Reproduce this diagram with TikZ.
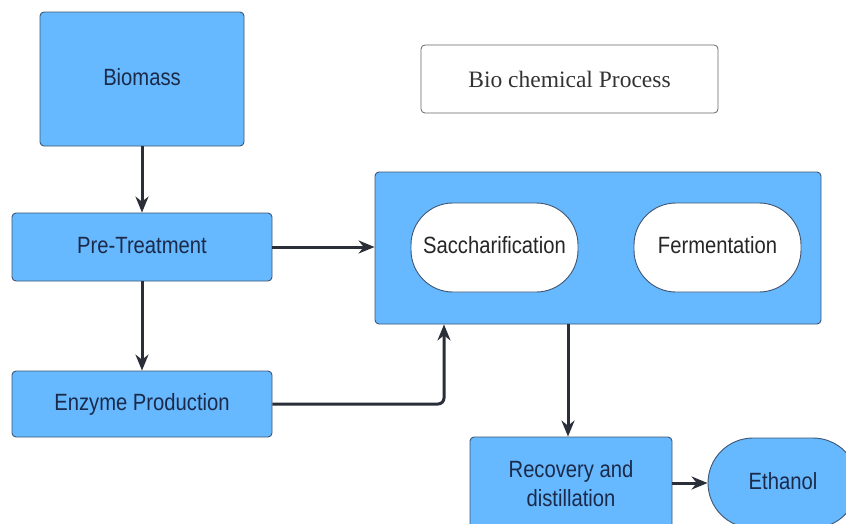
\documentclass[tikz,border=0pt]{standalone}
\usepackage{fontspec}
\setmainfont{Liberation Sans}[FakeStretch=0.86]
\newfontfamily\titlefont{Liberation Serif}
\usepackage{tikz}
\usetikzlibrary{calc,positioning,arrows.meta}
\definecolor{boxblue}{HTML}{66B8FF}
\definecolor{boxline}{HTML}{3E5573}
\definecolor{boxtext}{HTML}{1C2A4A}
\definecolor{arrowc}{HTML}{2A2E38}
\definecolor{titlec}{HTML}{333333}
\tikzset{
	blk/.style={draw=boxline, line width=0.9pt, fill=boxblue, rounded corners=4pt, text=boxtext, font=\fontsize{23.5}{29}\selectfont, align=center, inner sep=0pt},
	oneline/.style={text height=17pt, text depth=5pt},
	pill/.style={draw=boxline, line width=0.9pt, fill=white, rounded corners=42pt, text=black!85, font=\fontsize{23.5}{28}\selectfont, inner sep=0pt, minimum width=167pt, minimum height=89pt, oneline},
	flow/.style={-{Stealth[length=16pt,width=13pt]}, line width=3pt, arrowc}
}
\begin{document}
\begin{tikzpicture}[x=1pt,y=-1pt]
	 		\useasboundingbox (0,0) rectangle (846,523);
	 		\clip (0,0) rectangle (846,523);
	 		\node[blk, oneline, minimum width=204pt, minimum height=134pt] (bio) at (142,79) {Biomass};
	 		\node[blk, oneline, minimum width=260pt, minimum height=68pt] (pre) at (142,247) {Pre-Treatment};
	 		\node[blk, oneline, minimum width=260pt, minimum height=66pt] (enz) at (142,404) {Enzyme Production};
	 		\node[draw=black!60, line width=0.8pt, rounded corners=4pt, minimum width=297pt, minimum height=68pt, text=titlec, font=\titlefont\fontsize{23.5}{28}\selectfont] (title) at (569.5,79) {Bio chemical Process};
	 		\node[blk, minimum width=446pt, minimum height=152pt] (proc) at (598,248) {};
	 		\node[pill] (sac) at (494.5,247.5) {Saccharification};
	 		\node[pill] (fer) at (717.5,247.5) {Fermentation};
	 		\node[blk, minimum width=202pt, minimum height=94pt] (rec) at (571,484) {Recovery and\\distillation};
	 		\node[blk, oneline, rounded corners=45pt, minimum width=150pt, minimum height=90pt] (eth) at (783,483) {Ethanol};
	 		\coordinate (up) at ([xshift=-154pt]proc.south);
	 		\draw[flow] (bio) -- (pre);
	 		\draw[flow] (pre) -- (enz);
	 		\draw[flow] (pre.east) -- (pre.east -| proc.west);
	 		\draw[flow, rounded corners=6pt] (enz.east) -| (up);
	 		\draw[flow] (proc.south -| 568,0) -- (rec.north -| 568,0);
	 		\draw[flow] (rec.east |- eth.west) -- (eth.west);
	 	\end{tikzpicture}
\end{document}
